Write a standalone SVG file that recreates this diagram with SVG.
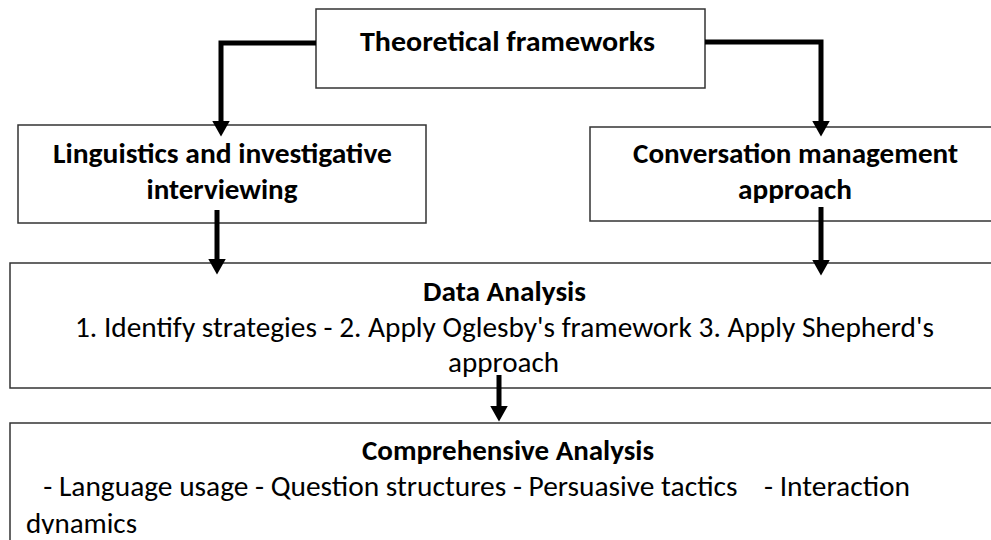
<svg xmlns="http://www.w3.org/2000/svg" width="991" height="540" viewBox="0 0 991 540">
  <style>
    .box { fill: #ffffff; stroke: #333333; stroke-width: 1.5; }
    .t { font-family: Carlito, Lato, "Liberation Sans", sans-serif; font-size: 29px; fill: #000000; white-space: pre; }
    .b { font-weight: bold; }
    .c { text-anchor: middle; }
    .conn { fill: none; stroke: #000000; stroke-width: 5; stroke-linejoin: miter; stroke-linecap: butt; marker-end: url(#ah); }
  </style>
  <defs>
    <marker id="ah" markerUnits="userSpaceOnUse" markerWidth="16" markerHeight="18" viewBox="0 0 16 18" refX="0.5" refY="9" orient="auto">
      <path d="M0,0 L16,9 L0,18 z" fill="#000000"/>
    </marker>
    <clipPath id="clipBottom">
      <rect x="0" y="0" width="991" height="534"/>
    </clipPath>
  </defs>
  <rect x="0" y="0" width="991" height="540" fill="#ffffff"/>

  <g id="node-theoretical">
    <rect class="box" x="316" y="9" width="389" height="79"/>
    <text class="t b c" x="507.5" y="51" textLength="295" lengthAdjust="spacingAndGlyphs">Theoretical frameworks</text>
  </g>

  <g id="node-linguistics">
    <rect class="box" x="18" y="125" width="408" height="98"/>
    <text class="t b c" x="222.5" y="163" textLength="339" lengthAdjust="spacingAndGlyphs">Linguistics and investigative</text>
    <text class="t b c" x="222" y="199" textLength="151" lengthAdjust="spacingAndGlyphs">interviewing</text>
  </g>

  <g id="node-conversation">
    <rect class="box" x="590" y="127" width="412" height="94"/>
    <text class="t b c" x="795.5" y="163" textLength="325" lengthAdjust="spacingAndGlyphs">Conversation management</text>
    <text class="t b c" x="795" y="199" textLength="114" lengthAdjust="spacingAndGlyphs">approach</text>
  </g>

  <g id="node-data-analysis">
    <rect class="box" x="10" y="263" width="992" height="125"/>
    <text class="t b c" x="504.5" y="301" textLength="163" lengthAdjust="spacingAndGlyphs">Data Analysis</text>
    <text class="t c" x="504.5" y="337" textLength="859" lengthAdjust="spacingAndGlyphs">1. Identify strategies - 2. Apply Oglesby's framework 3. Apply Shepherd's</text>
    <text class="t c" x="503.5" y="372" textLength="111" lengthAdjust="spacingAndGlyphs">approach</text>
  </g>

  <g id="node-comprehensive">
    <rect class="box" x="10" y="423" width="1000" height="140"/>
    <text class="t b c" x="508" y="460" textLength="292" lengthAdjust="spacingAndGlyphs">Comprehensive Analysis</text>
    <text class="t" x="30" y="496" textLength="880" lengthAdjust="spacingAndGlyphs">  - Language usage - Question structures - Persuasive tactics    - Interaction</text>
    <text class="t" x="26" y="533" textLength="111" lengthAdjust="spacingAndGlyphs" clip-path="url(#clipBottom)">dynamics</text>
  </g>

  <g id="connectors">
    <path class="conn" d="M316,43 H221 V121"/>
    <path class="conn" d="M705,42 H821 V121"/>
    <path class="conn" d="M217,210 V259"/>
    <path class="conn" d="M821,207 V260"/>
    <path class="conn" d="M499,375 V406"/>
  </g>
</svg>
